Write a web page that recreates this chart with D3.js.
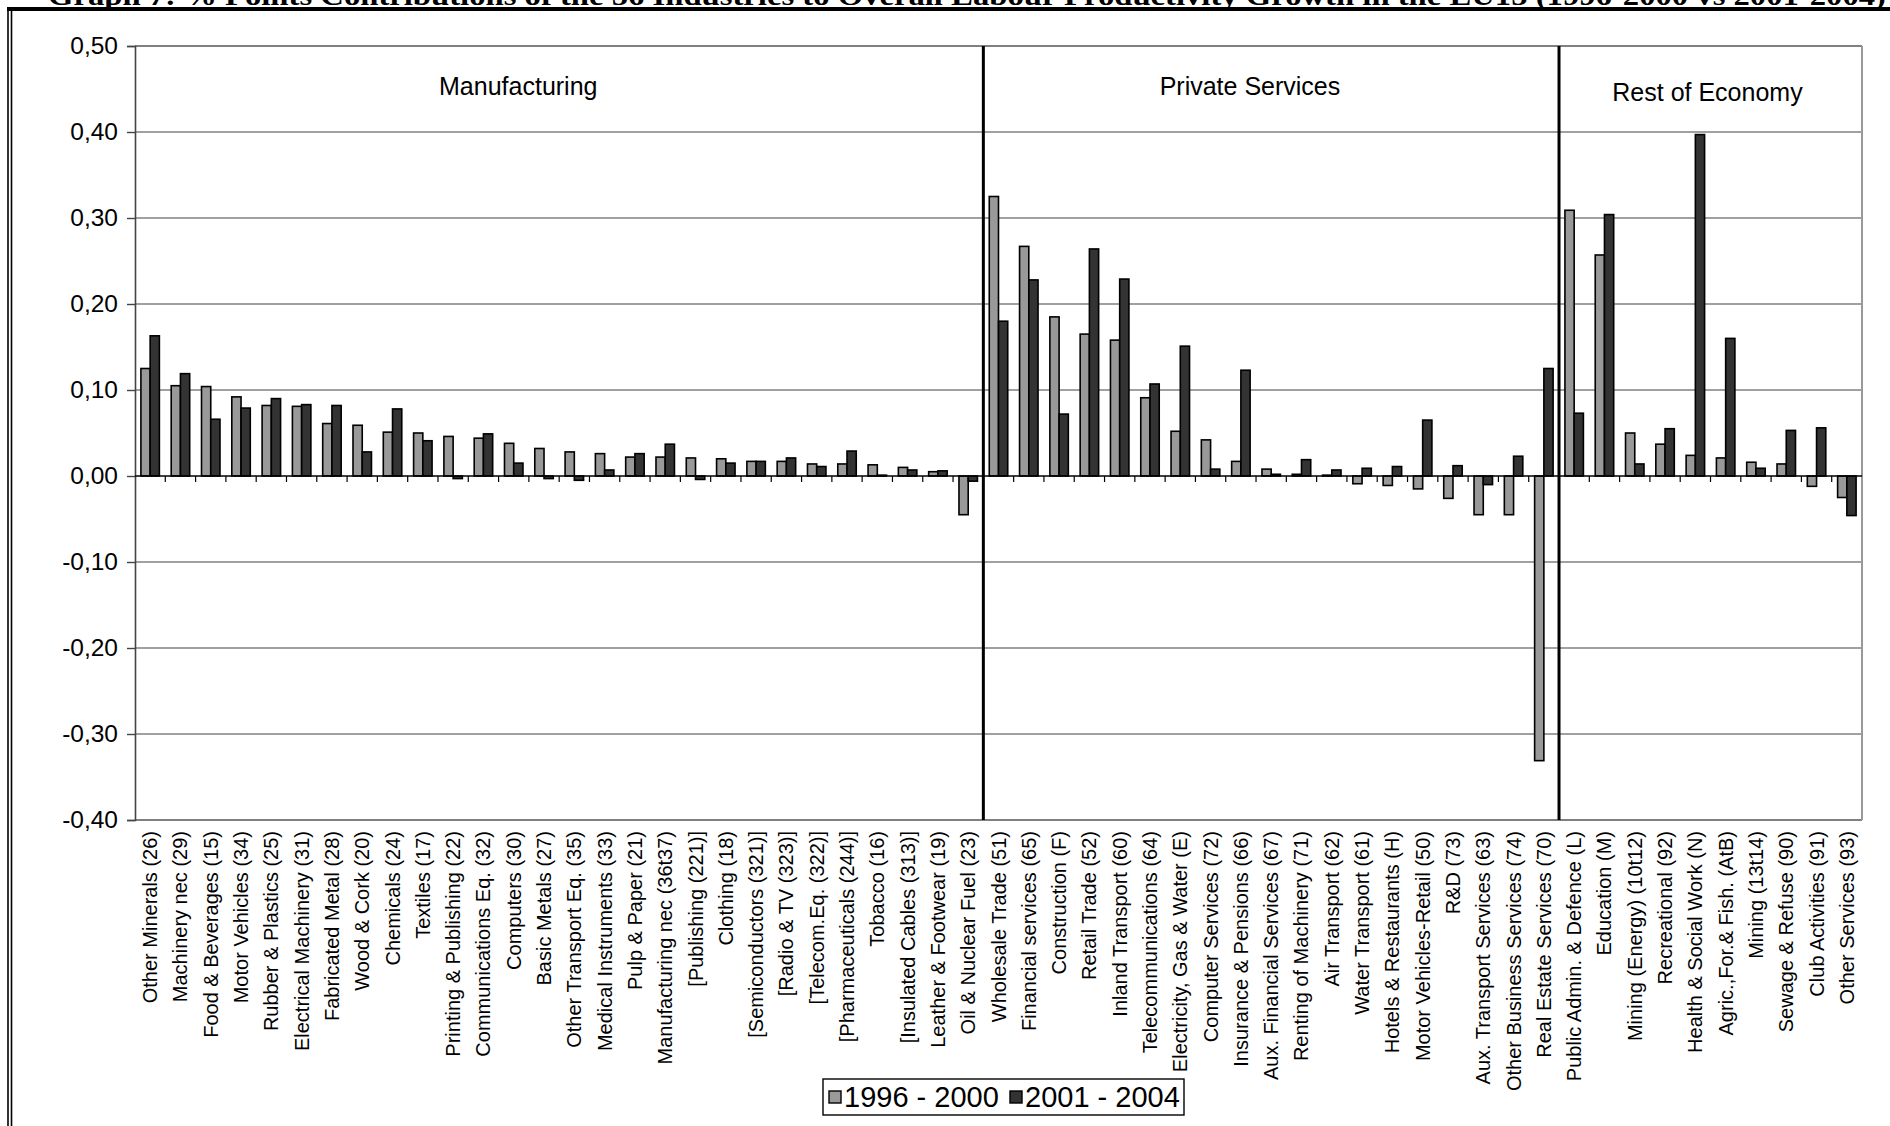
<!DOCTYPE html>
<html>
<head>
<meta charset="utf-8">
<script src="https://cdn.jsdelivr.net/npm/d3@7"></script>
<style>
  html, body { margin: 0; padding: 0; background: #fff; }
  svg { display: block; }
</style>
</head>
<body>
<svg id="chart" width="1890" height="1126"></svg>
<script>
// ---------------- DATA ----------------
const titleText = "Graph 7: % Points Contributions of the 56 Industries to Overall Labour Productivity Growth in the EU15 (1996-2000 vs 2001-2004)";

const categories = [
  "Other Minerals (26)", "Machinery nec (29)", "Food & Beverages (15)", "Motor Vehicles (34)",
  "Rubber & Plastics (25)", "Electrical Machinery (31)", "Fabricated Metal (28)", "Wood & Cork (20)",
  "Chemicals (24)", "Textiles (17)", "Printing & Publishing (22)", "Communications Eq. (32)",
  "Computers (30)", "Basic Metals (27)", "Other Transport Eq. (35)", "Medical Instruments (33)",
  "Pulp & Paper (21)", "Manufacturing nec (36t37)", "[Publishing (221)]", "Clothing (18)",
  "[Semiconductors (321)]", "[Radio & TV (323)]", "[Telecom.Eq. (322)]", "[Pharmaceuticals (244)]",
  "Tobacco (16)", "[Insulated Cables (313)]", "Leather & Footwear (19)", "Oil & Nuclear Fuel (23)",
  "Wholesale Trade (51)", "Financial services (65)", "Construction (F)", "Retail Trade (52)",
  "Inland Transport (60)", "Telecommunications (64)", "Electricity, Gas & Water (E)", "Computer Services (72)",
  "Insurance & Pensions (66)", "Aux. Financial Services (67)", "Renting of Machinery (71)", "Air Transport (62)",
  "Water Transport (61)", "Hotels & Restaurants (H)", "Motor Vehicles-Retail (50)", "R&D (73)",
  "Aux. Transport Services (63)", "Other Business Services (74)", "Real Estate Services (70)",
  "Public Admin. & Defence (L)", "Education (M)", "Mining (Energy) (10t12)", "Recreational (92)",
  "Health & Social Work (N)", "Agric.,For.& Fish. (AtB)", "Mining (13t14)", "Sewage & Refuse (90)",
  "Club Activities (91)", "Other Services (93)"
];

const seriesNames = ["1996 - 2000", "2001 - 2004"];

const values1996_2000 = [
  0.125, 0.105, 0.104, 0.092, 0.082, 0.081, 0.061, 0.059, 0.051, 0.050, 0.046, 0.044,
  0.038, 0.032, 0.028, 0.026, 0.022, 0.022, 0.021, 0.020, 0.017, 0.017, 0.014, 0.014,
  0.013, 0.010, 0.005, -0.045,
  0.325, 0.267, 0.185, 0.165, 0.158, 0.091, 0.052, 0.042, 0.017, 0.008, 0.002, 0.001,
  -0.009, -0.011, -0.015, -0.026, -0.045, -0.045, -0.331,
  0.309, 0.257, 0.050, 0.037, 0.024, 0.021, 0.016, 0.014, -0.012, -0.025
];

const values2001_2004 = [
  0.163, 0.119, 0.066, 0.079, 0.090, 0.083, 0.082, 0.028, 0.078, 0.041, -0.003, 0.049,
  0.015, -0.003, -0.005, 0.007, 0.026, 0.037, -0.004, 0.015, 0.017, 0.021, 0.011, 0.029,
  0.001, 0.007, 0.006, -0.006,
  0.180, 0.228, 0.072, 0.264, 0.229, 0.107, 0.151, 0.008, 0.123, 0.002, 0.019, 0.007,
  0.009, 0.011, 0.065, 0.012, -0.010, 0.023, 0.125,
  0.073, 0.304, 0.014, 0.055, 0.397, 0.160, 0.009, 0.053, 0.056, -0.046
];

const sectionNames = ["Manufacturing", "Private Services", "Rest of Economy"];
const sectionSizes = [28, 19, 10];

const yTicks = [-0.4, -0.3, -0.2, -0.1, 0.0, 0.1, 0.2, 0.3, 0.4, 0.5];

// ---------------- LAYOUT ----------------
const svg = d3.select("#chart");
const plot = { left: 135, right: 1862, top: 46, bottom: 820 };
const colors = ["#999999", "#333333"];
const sans = "'Liberation Sans', Arial, sans-serif";

const x = d3.scaleBand().domain(categories).range([plot.left, plot.right]).paddingInner(0).paddingOuter(0);
const xInner = d3.scaleBand().domain(seriesNames).range([0, x.bandwidth()]).paddingInner(0).paddingOuter(0.64);
const y = d3.scaleLinear().domain([-0.4, 0.5]).range([plot.bottom, plot.top]);

const locale = d3.formatLocale({ decimal: ",", thousands: ".", grouping: [3], currency: ["", ""], minus: "-" });
const fmt = locale.format(".2f");

// Frame
svg.append("line").attr("x1", 7).attr("x2", 1890).attr("y1", 9).attr("y2", 9)
  .attr("stroke", "#000").attr("stroke-width", 4);
svg.append("line").attr("x1", 8).attr("x2", 8).attr("y1", 7).attr("y2", 1126)
  .attr("stroke", "#000").attr("stroke-width", 1.6);
svg.append("line").attr("x1", 11.5).attr("x2", 11.5).attr("y1", 11).attr("y2", 1126)
  .attr("stroke", "#000").attr("stroke-width", 1.6);

// Title (clipped at top edge as in the original)
svg.append("text").attr("x", 48).attr("y", 5)
  .attr("font-family", "'Liberation Serif', 'Times New Roman', serif")
  .attr("font-weight", "bold").attr("font-size", 28)
  .attr("textLength", 1838).attr("lengthAdjust", "spacingAndGlyphs")
  .text(titleText);

// Gridlines
svg.append("g").selectAll("line").data(yTicks.filter(d => d !== 0)).join("line")
  .attr("x1", plot.left).attr("x2", plot.right)
  .attr("y1", d => y(d)).attr("y2", d => y(d))
  .attr("stroke", "#808080")
  .attr("stroke-width", d => (d === 0.5 || d === -0.4) ? 2 : 1.3);

// Right border
svg.append("line").attr("x1", plot.right).attr("x2", plot.right)
  .attr("y1", plot.top).attr("y2", plot.bottom).attr("stroke", "#999").attr("stroke-width", 2);

// Y axis
const yAxis = d3.axisLeft(y).tickValues(yTicks).tickFormat(fmt).tickSize(8).tickPadding(9);
const gy = svg.append("g").attr("transform", `translate(${plot.left},0)`).call(yAxis);
gy.select(".domain").attr("stroke", "#444").attr("stroke-width", 1.6);
gy.selectAll(".tick line").attr("stroke", "#444").attr("stroke-width", 1.4);
gy.selectAll(".tick text").attr("font-family", sans)
  .attr("font-size", 24.5).attr("fill", "#000");

// Bars
const seriesData = [values1996_2000, values2001_2004];
const barG = svg.append("g");
seriesData.forEach((vals, si) => {
  barG.append("g").selectAll("rect").data(categories.map((c, i) => ({ c, v: vals[i] }))).join("rect")
    .attr("x", d => x(d.c) + xInner(seriesNames[si]))
    .attr("width", xInner.bandwidth())
    .attr("y", d => y(Math.max(0, d.v)))
    .attr("height", d => Math.abs(y(d.v) - y(0)))
    .attr("fill", colors[si])
    .attr("stroke", "#000").attr("stroke-width", 1.6);
});

// Zero axis with ticks at category boundaries
const zeroY = y(0);
svg.append("line").attr("x1", plot.left).attr("x2", plot.right).attr("y1", zeroY).attr("y2", zeroY)
  .attr("stroke", "#000").attr("stroke-width", 1.4);
svg.append("g").selectAll("line").data(categories.slice(1)).join("line")
  .attr("x1", d => x(d)).attr("x2", d => x(d))
  .attr("y1", zeroY).attr("y2", zeroY + 6)
  .attr("stroke", "#000").attr("stroke-width", 1.2);

// Section separators
let acc = 0;
const sepIdx = [];
sectionSizes.slice(0, -1).forEach(s => { acc += s; sepIdx.push(acc); });
svg.append("g").selectAll("line").data(sepIdx).join("line")
  .attr("x1", d => x(categories[d])).attr("x2", d => x(categories[d]))
  .attr("y1", plot.top).attr("y2", plot.bottom)
  .attr("stroke", "#000").attr("stroke-width", 3);

// Section labels (positions in category units)
const sectionLabelPos = [12.65, 36.8, 51.9];
const sectionLabelY = [86, 86, 92];
svg.append("g").selectAll("text").data(sectionNames).join("text")
  .attr("x", (d, i) => plot.left + sectionLabelPos[i] * x.step())
  .attr("y", (d, i) => sectionLabelY[i])
  .attr("dy", "0.35em")
  .attr("text-anchor", "middle")
  .attr("font-family", sans)
  .attr("font-size", 25)
  .text(d => d);

// Category labels (rotated)
svg.append("g").selectAll("text").data(categories).join("text")
  .attr("transform", d => `translate(${x(d) + x.bandwidth() / 2}, ${plot.bottom + 11}) rotate(-90)`)
  .attr("text-anchor", "end")
  .attr("dy", "0.35em")
  .attr("font-family", sans)
  .attr("font-size", 20)
  .text(d => d);

// Legend
const lg = svg.append("g").attr("transform", "translate(823,1079)");
lg.append("rect").attr("x", 0).attr("y", 0).attr("width", 361).attr("height", 36)
  .attr("fill", "#fff").attr("stroke", "#000").attr("stroke-width", 1.4);
const legendItems = lg.selectAll("g").data(seriesNames).join("g")
  .attr("transform", (d, i) => `translate(${6 + i * 181},0)`);
legendItems.append("rect").attr("x", 0).attr("y", 12).attr("width", 12).attr("height", 12)
  .attr("fill", (d, i) => colors[i]).attr("stroke", "#000").attr("stroke-width", 1.4);
legendItems.append("text").attr("x", 15).attr("y", 18).attr("dy", "0.36em")
  .attr("font-family", sans)
  .attr("font-size", 29)
  .text(d => d);
</script>
</body>
</html>
